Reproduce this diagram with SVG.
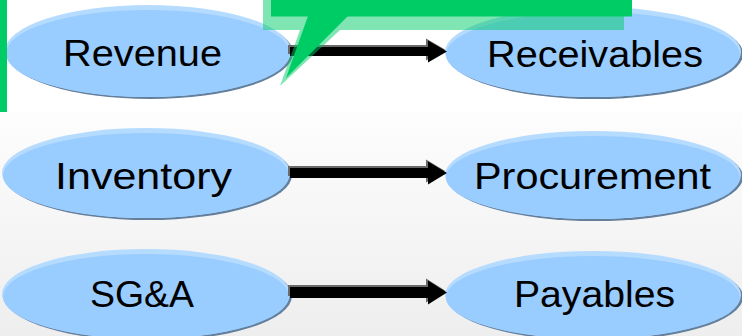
<svg xmlns="http://www.w3.org/2000/svg" width="742" height="336" viewBox="0 0 742 336">
<defs>
<linearGradient id="bg" x1="0" y1="0" x2="0" y2="1">
<stop offset="0" stop-color="#fdfdfd"/>
<stop offset="1" stop-color="#eeeeee"/>
</linearGradient>
<style>
.sh{fill:#647f9c}
.rim{fill:#b5dbff}
.body{fill:#99ccff}
.lbl{font-family:"Liberation Sans",Arial,sans-serif;font-size:37px;fill:#000;text-anchor:middle}
.ashadow{fill:#6a6a6a}
.arrow{fill:#000}
.cs{fill:#00cc66}
.cl{fill:#00cc66;opacity:0.5}
</style>
</defs>
<rect x="0" y="0" width="742" height="336" fill="#ffffff"/>
<rect x="0" y="112" width="742" height="224" fill="url(#bg)"/>

<g id="node-revenue">
<ellipse class="sh" cx="150" cy="53" rx="143" ry="46"/>
<ellipse class="rim" cx="148" cy="51" rx="143" ry="46"/>
<ellipse class="body" cx="148" cy="53.5" rx="142" ry="43.5"/>
<text class="lbl" x="142.5" y="66" textLength="159" lengthAdjust="spacingAndGlyphs">Revenue</text>
</g>
<g id="node-receivables">
<ellipse class="sh" cx="595" cy="54" rx="148" ry="45"/>
<ellipse class="rim" cx="593" cy="52" rx="148" ry="45"/>
<ellipse class="body" cx="593" cy="54.5" rx="147" ry="42.5"/>
<text class="lbl" x="595" y="66.5" textLength="216" lengthAdjust="spacingAndGlyphs">Receivables</text>
</g>
<g id="node-inventory">
<ellipse class="sh" cx="148" cy="175" rx="144" ry="45"/>
<ellipse class="rim" cx="146" cy="173" rx="144" ry="45"/>
<ellipse class="body" cx="146" cy="175.5" rx="143" ry="42.5"/>
<text class="lbl" x="143.5" y="189" textLength="177" lengthAdjust="spacingAndGlyphs">Inventory</text>
</g>
<g id="node-procurement">
<ellipse class="sh" cx="595" cy="177" rx="148" ry="44"/>
<ellipse class="rim" cx="593" cy="175" rx="148" ry="44"/>
<ellipse class="body" cx="593" cy="177.5" rx="147" ry="41.5"/>
<text class="lbl" x="592.5" y="189" textLength="237" lengthAdjust="spacingAndGlyphs">Procurement</text>
</g>
<g id="node-sga">
<ellipse class="sh" cx="148" cy="296" rx="144" ry="45"/>
<ellipse class="rim" cx="146" cy="294" rx="144" ry="45"/>
<ellipse class="body" cx="146" cy="296.5" rx="143" ry="42.5"/>
<text class="lbl" x="142" y="307" textLength="104" lengthAdjust="spacingAndGlyphs">SG&amp;A</text>
</g>
<g id="node-payables">
<ellipse class="sh" cx="595" cy="297" rx="148" ry="44"/>
<ellipse class="rim" cx="593" cy="295" rx="148" ry="44"/>
<ellipse class="body" cx="593" cy="297.5" rx="147" ry="41.5"/>
<text class="lbl" x="594.5" y="307" textLength="161" lengthAdjust="spacingAndGlyphs">Payables</text>
</g>

<g id="connectors">
<path class="ashadow" d="M288,45 H426 V38.5 L445,49.5 L426,60.5 V54 H288 Z"/>
<path class="arrow" d="M290,47 H428 V40.5 L447,51.5 L428,62.5 V56 H290 Z"/>
<path class="ashadow" d="M288,166 H426 V159.5 L445,171 L426,182.5 V176 H288 Z"/>
<path class="arrow" d="M290,168 H428 V161.5 L447,173 L428,184.5 V178 H290 Z"/>
<path class="ashadow" d="M288,285 H426 V278.5 L445,290.5 L426,302.5 V296 H288 Z"/>
<path class="arrow" d="M290,287 H428 V280.5 L447,292.5 L428,304.5 V298 H290 Z"/>
</g>

<g id="callout">
<rect class="cl" x="263" y="0" width="361" height="30"/>
<polygon class="cl" points="300,30 340,30 280,86"/>
<rect class="cs" x="271" y="0" width="361" height="16.5"/>
<polygon class="cs" points="308,16 348,16 286,78"/>
</g>
<rect id="side-bar" x="0" y="0" width="7" height="112" fill="#00cc66"/>
</svg>
